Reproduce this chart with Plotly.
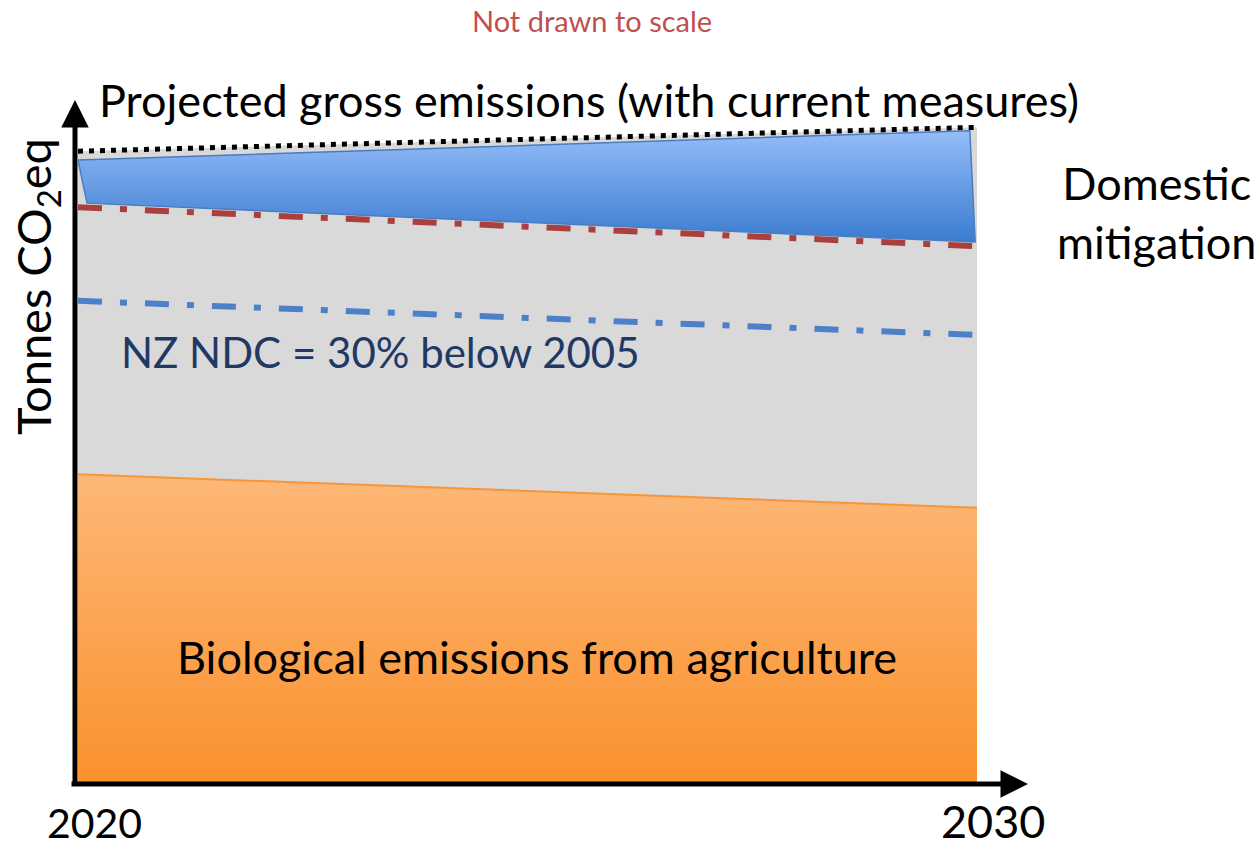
import plotly.graph_objects as go

# ---- data (arbitrary units, not to scale) ----
years = [2020, 2030]
gross_emissions = [92.5, 96.0]          # projected gross emissions (dotted)
target_line = [84.3, 78.6]              # red dash-dot
ndc_line = [70.6, 65.6]                 # NZ NDC = 30% below 2005
bio_agriculture = [45.2, 40.3]          # biological emissions from agriculture
mitigation_x = [2020.0, 2029.92, 2029.98, 2020.1, 2020.0]
mitigation_y = [91.2, 95.5, 79.2, 84.9, 91.2]
tick_labels = ["2020", "2030"]

fig = go.Figure()

# gray area under gross emissions
fig.add_trace(go.Scatter(x=years, y=gross_emissions, mode="lines",
                         line=dict(width=0), fill="tozeroy",
                         fillcolor="#D9D9D9", hoverinfo="skip"))
# orange agriculture area with gradient
fig.add_trace(go.Scatter(x=years, y=bio_agriculture, mode="lines",
                         line=dict(color="#F7953B", width=2), fill="tozeroy",
                         fillgradient=dict(type="vertical", start=0,
                                           stop=max(bio_agriculture),
                                           colorscale=[[0, "#FA912D"], [1, "#FDB878"]]),
                         hoverinfo="skip"))
# dotted gross emissions line
fig.add_trace(go.Scatter(x=years, y=gross_emissions, mode="lines",
                         line=dict(color="black", width=5, dash="5px,6px"),
                         hoverinfo="skip"))
# red dash-dot line
fig.add_trace(go.Scatter(x=years, y=target_line, mode="lines",
                         line=dict(color="#A9403D", width=6, dash="24px,18px,7px,18px"),
                         hoverinfo="skip"))
# blue NDC dash-dot line
fig.add_trace(go.Scatter(x=years, y=ndc_line, mode="lines",
                         line=dict(color="#4D80C8", width=6, dash="24px,18px,7px,18px"),
                         hoverinfo="skip"))
# blue domestic mitigation wedge
fig.add_trace(go.Scatter(x=mitigation_x, y=mitigation_y, mode="lines",
                         line=dict(color="#4A7CC0", width=1.5), fill="toself",
                         fillgradient=dict(type="vertical",
                                           colorscale=[[0, "#3A7BD0"], [1, "#95BDF8"]]),
                         hoverinfo="skip"))

font_main = "Lato, 'Open Sans', sans-serif"

L, R, T, B = 78, 283, 100, 65
W, H = 1260 - L - R, 848 - T - B
def px(x): return (x - L) / W
def py(y): return (848 - B - y) / H

def label(text, x, y, size, color="black", **kw):
    return dict(text=text, x=px(x), y=py(y), xref="paper", yref="paper",
                showarrow=False, font=dict(family=font_main, size=size, color=color),
                xanchor="center", yanchor="middle", **kw)

annotations = [
    label("Not drawn to scale", 592, 21, 29, "#C0504D"),
    label("Projected gross emissions (with current measures)", 589, 100, 45),
    label("Domestic<br>mitigation", 1156, 212, 45, align="center"),
    label("NZ NDC = 30% below 2005", 380, 352, 42, "#1F3864"),
    label("Biological emissions from agriculture", 537, 657, 45),
    label("Tonnes CO<sub>2</sub>eq", 36, 287, 47, textangle=-90),
    label(tick_labels[0], 94, 822, 41),
    label(tick_labels[1], 993, 821, 45),
    # axis arrows
    dict(x=px(1028), y=py(784), xref="paper", yref="paper", text="",
         showarrow=True, ax=-958, ay=0, arrowhead=2, arrowsize=1.1, arrowwidth=5,
         arrowcolor="black"),
    dict(x=px(75), y=py(100), xref="paper", yref="paper", text="",
         showarrow=True, ax=0, ay=686, arrowhead=2, arrowsize=1.1, arrowwidth=5,
         arrowcolor="black"),
]

fig.update_layout(
    width=1260, height=848,
    margin=dict(l=L, r=R, t=T, b=B),
    paper_bgcolor="white", plot_bgcolor="white",
    showlegend=False,
    xaxis=dict(range=[2020, 2030], visible=False, fixedrange=True),
    yaxis=dict(range=[0, 100], visible=False, fixedrange=True),
    annotations=annotations,
)

fig.write_html("out.html")
